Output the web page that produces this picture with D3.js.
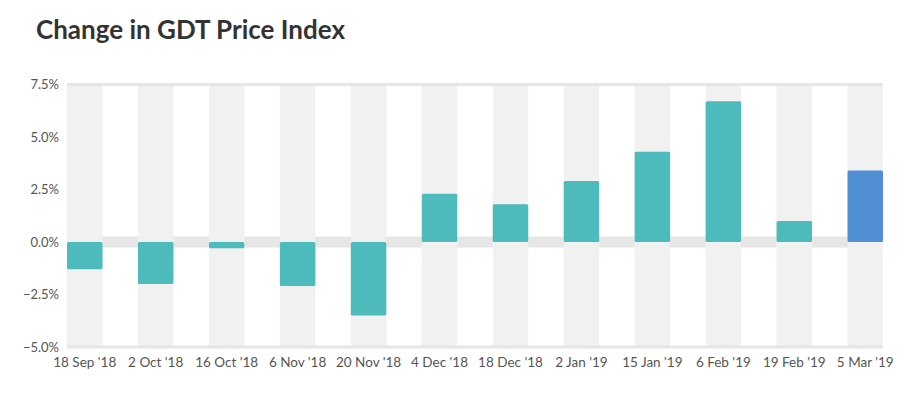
<!DOCTYPE html>
<html>
<head>
<meta charset="utf-8">
<script src="https://cdn.jsdelivr.net/npm/d3@7"></script>
<style>
  body { margin: 0; background: #fff; }
  text { font-family: Lato, "Open Sans", sans-serif; }
</style>
</head>
<body>
<div id="chart"></div>
<script>
// GDT auction dates and the change in price index (%)
const dates = ["18 Sep '18", "2 Oct '18", "16 Oct '18", "6 Nov '18", "20 Nov '18", "4 Dec '18",
  "18 Dec '18", "2 Jan '19", "15 Jan '19", "6 Feb '19", "19 Feb '19", "5 Mar '19"];
const changes = [-1.3, -2.0, -0.3, -2.1, -3.5, 2.3, 1.8, 2.9, 4.3, 6.7, 1.0, 3.4];
const yTicks = [-5, -2.5, 0, 2.5, 5, 7.5];

const width = 918, height = 396;
const plotLeft = 67, plotRight = 883, plotTop = 84.5, plotBottom = 347;

const svg = d3.select("#chart").append("svg")
    .attr("width", width)
    .attr("height", height);

svg.append("text")
    .attr("x", 36)
    .attr("y", 39)
    .attr("font-size", 26)
    .attr("font-weight", 700)
    .attr("fill", "#333")
    .text("Change in GDT Price Index");

const x = d3.scaleBand()
    .domain(dates)
    .range([plotLeft, plotRight])
    .paddingInner(0.5)
    .paddingOuter(0);

const y = d3.scaleLinear()
    .domain([-5, 7.5])
    .range([plotBottom, plotTop]);

// zero band behind columns
svg.append("rect")
    .attr("x", plotLeft)
    .attr("y", y(0) - 5.5)
    .attr("width", plotRight - plotLeft)
    .attr("height", 11)
    .attr("fill", "#e6e6e6");

// grey columns
svg.append("g")
  .selectAll("rect")
  .data(dates)
  .join("rect")
    .attr("x", d => x(d))
    .attr("y", plotTop)
    .attr("width", x.bandwidth())
    .attr("height", plotBottom - plotTop)
    .attr("fill", "#f1f1f1");

// top and bottom lines
svg.append("g")
  .selectAll("rect")
  .data([7.5, -5])
  .join("rect")
    .attr("x", plotLeft)
    .attr("y", d => y(d) - 1.5)
    .attr("width", plotRight - plotLeft)
    .attr("height", 3)
    .attr("fill", "#e6e6e6");

// bars
svg.append("g")
  .selectAll("rect")
  .data(changes)
  .join("rect")
    .attr("x", (d, i) => x(dates[i]))
    .attr("y", d => y(Math.max(0, d)))
    .attr("width", x.bandwidth())
    .attr("height", d => Math.abs(y(d) - y(0)))
    .attr("rx", 1.5)
    .attr("fill", (d, i) => i === changes.length - 1 ? "#518fd5" : "#4dbbbc");

// y axis labels
const yAxis = svg.append("g")
    .attr("transform", `translate(${plotLeft - 8},0)`)
    .call(d3.axisLeft(y).tickValues(yTicks).tickSize(0).tickPadding(0)
      .tickFormat(d => d3.format(".1f")(d) + "%"));
yAxis.select(".domain").remove();
yAxis.selectAll("text")
    .attr("font-size", 13)
    .attr("fill", "#555")
    .style("font-family", "Lato, sans-serif");

// x axis labels
const xAxis = svg.append("g")
    .attr("transform", `translate(0,${plotBottom + 2})`)
    .call(d3.axisBottom(x).tickSize(0).tickPadding(8));
xAxis.select(".domain").remove();
xAxis.selectAll("text")
    .attr("font-size", 13.5)
    .attr("fill", "#555")
    .style("font-family", "Lato, sans-serif");
</script>
</body>
</html>
